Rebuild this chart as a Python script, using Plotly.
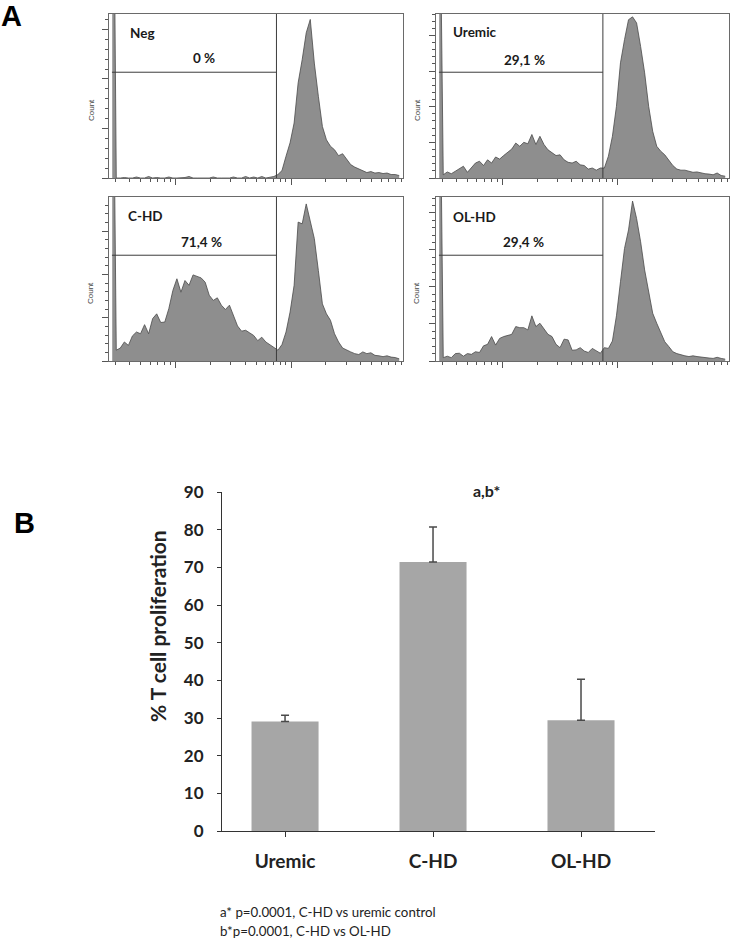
import math
import plotly.graph_objects as go

W, H = 733, 943

# ---------------- Panel A data: CFSE histograms (72 log-spaced channels) ----------------
channel_log = [1.45 + 0.035 * i for i in range(72)]
channels = [10 ** v for v in channel_log]

# first channel = off-scale pile-up at the axis minimum
neg_counts = [1000,
    0, 0, 1, 0, 0, 2, 0, 0, 3, 0,
    1, 0, 0, 2, 0, 0, 0, 1, 3, 0,
    0, 0, 0, 0, 2, 0, 0, 0, 0, 2,
    0, 0, 3, 0, 2, 0, 3, 0, 2, 3,
    7, 15, 44, 71, 111, 192, 239, 293, 320, 232,
    165, 104, 77, 64, 57, 45, 49, 37, 27, 22,
    18, 15, 11, 13, 10, 11, 9, 10, 7, 7,
    5]
uremic_counts = [1000,
    9, 17, 12, 19, 25, 33, 16, 28, 42, 47,
    35, 51, 42, 59, 53, 63, 72, 81, 98, 89,
    100, 96, 122, 94, 117, 94, 79, 70, 63, 65,
    51, 44, 42, 47, 37, 35, 25, 28, 22, 28,
    28, 61, 117, 201, 323, 388, 444, 452, 435, 369,
    295, 201, 131, 89, 75, 65, 50, 35, 25, 22,
    22, 19, 16, 17, 14, 12, 11, 9, 14, 7,
    5]
chd_counts = [1000,
    25, 30, 44, 36, 58, 67, 63, 84, 63, 98,
    109, 89, 90, 121, 163, 190, 159, 186, 175, 199,
    196, 192, 182, 152, 140, 146, 129, 119, 129, 107,
    81, 69, 71, 65, 59, 47, 55, 44, 38, 30,
    25, 38, 67, 113, 175, 321, 317, 363, 320, 283,
    209, 132, 109, 94, 63, 44, 30, 25, 21, 17,
    15, 21, 17, 19, 13, 12, 10, 12, 9, 8,
    5]
olhd_counts = [1000,
    9, 13, 9, 20, 21, 13, 20, 18, 25, 23,
    41, 45, 66, 43, 61, 66, 70, 72, 93, 90,
    90, 84, 122, 93, 102, 88, 72, 66, 45, 36,
    59, 57, 29, 30, 36, 27, 23, 34, 28, 21,
    36, 34, 54, 122, 214, 304, 354, 432, 385, 322,
    246, 187, 129, 102, 75, 52, 39, 25, 20, 16,
    14, 12, 14, 12, 10, 9, 8, 7, 10, 7,
    5]

panel_names = ["Neg", "Uremic", "C-HD", "OL-HD"]
panel_pct = ["0 %", "29,1 %", "71,4 %", "29,4 %"]
panel_counts = [neg_counts, uremic_counts, chd_counts, olhd_counts]
panel_ymax = [331, 460, 379, 443]
gate_value = 745          # divided-cell gate upper limit (fluorescence)

x_major = [100, 1000]
x_minor = [30, 40, 50, 60, 70, 80, 90,
           200, 300, 400, 500, 600, 700, 800, 900,
           2000, 3000, 4000, 5000, 6000, 7000, 8000, 9000]
x_log_range = [1.422, 3.968]

# ---------------- Panel B data ----------------
groups = ["Uremic", "C-HD", "OL-HD"]
proliferation = [29.1, 71.4, 29.4]
sd_upper = [1.6, 9.3, 10.9]
y_ticks_b = [0, 10, 20, 30, 40, 50, 60, 70, 80, 90]
footnotes = ["a* p=0.0001, C-HD vs uremic control", "b*p=0.0001, C-HD vs OL-HD"]

# ---------------- layout helpers ----------------
def fx(p):
    return p / W

def fy(p):
    return 1 - p / H

FONT = "Lato"
fig = go.Figure()

# panel frames in pixels: (left, right, top, bottom)
frames = [(109, 403, 14, 178), (436, 729, 14, 178),
          (109, 403, 197, 361), (436, 729, 197, 361)]
name_pos = [(128, 33), (451, 32), (126, 216), (451, 217)]
pct_pos = [(204, 58), (524, 60), (201, 242), (523, 242)]
count_x = [91, 417, 91, 417]

shapes = []
annotations = []
gate_frac = (math.log10(gate_value) - x_log_range[0]) / (x_log_range[1] - x_log_range[0])

for k in range(4):
    ax = "" if k == 0 else str(k + 1)
    L, R, T, B = frames[k]
    fig.add_trace(go.Scatter(
        x=channels, y=panel_counts[k], mode="lines",
        fill="tozeroy", fillcolor="#8e8e8e",
        line=dict(color="#4a4a4a", width=0.8),
        xaxis="x" + ax, yaxis="y" + ax, showlegend=False, hoverinfo="skip"))
    fig.update_layout(**{
        "xaxis" + ax: dict(
            domain=[fx(L), fx(R)], anchor="y" + ax, type="log", range=x_log_range,
            automargin=False,
            showline=True, linecolor="#6a6a6a", linewidth=1, mirror=True,
            ticks="outside", tickmode="array", tickvals=x_major, ticklen=6,
            tickcolor="#555", tickwidth=1, showticklabels=False,
            showgrid=False, zeroline=False,
            minor=dict(tickmode="array", tickvals=x_minor, ticks="outside",
                       ticklen=3, tickcolor="#555", showgrid=False)),
        "yaxis" + ax: dict(
            domain=[fy(B), fy(T)], anchor="x" + ax, range=[0, panel_ymax[k]],
            automargin=False,
            showline=True, linecolor="#6a6a6a", linewidth=1, mirror=True,
            ticks="outside", tickmode="linear", tick0=0, dtick=100, ticklen=6,
            tickcolor="#555", showticklabels=False, showgrid=False, zeroline=False,
            minor=dict(dtick=20, ticks="outside", ticklen=3, tickcolor="#555",
                       showgrid=False)),
    })
    # gate: vertical marker + horizontal bar across the gated region
    shapes.append(dict(type="line", xref="x" + ax + " domain", yref="y" + ax + " domain",
                       x0=gate_frac, x1=gate_frac, y0=0, y1=1,
                       line=dict(color="#3c3c3c", width=1)))
    shapes.append(dict(type="line", xref="x" + ax + " domain", yref="y" + ax + " domain",
                       x0=0.01, x1=gate_frac, y0=0.645, y1=0.645,
                       line=dict(color="#3c3c3c", width=1)))
    annotations.append(dict(x=fx(name_pos[k][0]), y=fy(name_pos[k][1]), xref="paper", yref="paper",
                            text="<b>" + panel_names[k] + "</b>", showarrow=False,
                            xanchor="left", yanchor="middle",
                            font=dict(family=FONT, size=13.5, color="#1a1a1a")))
    annotations.append(dict(x=fx(pct_pos[k][0]), y=fy(pct_pos[k][1]), xref="paper", yref="paper",
                            text="<b>" + panel_pct[k] + "</b>", showarrow=False,
                            xanchor="center", yanchor="middle",
                            font=dict(family=FONT, size=13.5, color="#1a1a1a")))
    annotations.append(dict(x=fx(count_x[k]), y=fy((T + B) / 2 + 14), xref="paper", yref="paper",
                            text="Count", showarrow=False, textangle=-90,
                            xanchor="center", yanchor="middle",
                            font=dict(family="Liberation Sans", size=8, color="#444")))

# ---------------- Panel B ----------------
fig.add_trace(go.Bar(
    x=groups, y=proliferation, width=0.453, marker=dict(color="#a6a6a6", line=dict(width=0)),
    error_y=dict(type="data", symmetric=False, array=sd_upper, arrayminus=[0, 0, 0],
                 color="#4a4a4a", thickness=1.5, width=4),
    xaxis="x5", yaxis="y5", showlegend=False, hoverinfo="skip"))

fig.update_layout(
    xaxis5=dict(domain=[fx(222), fx(655)], anchor="y5", type="category", automargin=False,
                range=[-0.426, 2.5], showline=True, linecolor="#333", linewidth=1.2,
                ticks="outside", ticklen=5, tickcolor="#333", showgrid=False, zeroline=False,
                ticklabelstandoff=8,
                tickfont=dict(family=FONT, size=19, color="#222", weight="bold")),
    yaxis5=dict(domain=[fy(831), fy(492)], anchor="x5", range=[0, 90], automargin=False,
                tickmode="array", tickvals=y_ticks_b, showline=True, linecolor="#333",
                linewidth=1.2, ticks="outside", ticklen=4, tickcolor="#333",
                showgrid=False, zeroline=False, ticklabelstandoff=10,
                tickfont=dict(family=FONT, size=17, color="#222", weight="bold")),
)

annotations += [
    dict(x=fx(157), y=fy(626), xref="paper", yref="paper", text="<b>% T cell proliferation</b>",
         textangle=-90, showarrow=False, xanchor="center", yanchor="middle",
         font=dict(family=FONT, size=21, color="#222")),
    dict(x=fx(486), y=fy(490), xref="paper", yref="paper", text="<b>a,b*</b>",
         showarrow=False, xanchor="center", yanchor="middle",
         font=dict(family=FONT, size=16, color="#222")),
    dict(x=fx(218), y=fy(912), xref="paper", yref="paper", text=footnotes[0],
         showarrow=False, xanchor="left", yanchor="middle",
         font=dict(family=FONT, size=13.3, color="#222")),
    dict(x=fx(218), y=fy(931), xref="paper", yref="paper", text=footnotes[1],
         showarrow=False, xanchor="left", yanchor="middle",
         font=dict(family=FONT, size=13.3, color="#222")),
    dict(x=fx(11), y=fy(16), xref="paper", yref="paper", text="<b>A</b>",
         showarrow=False, xanchor="center", yanchor="middle",
         font=dict(family="Liberation Sans", size=29, color="#000")),
    dict(x=fx(24), y=fy(523), xref="paper", yref="paper", text="<b>B</b>",
         showarrow=False, xanchor="center", yanchor="middle",
         font=dict(family="Liberation Sans", size=29, color="#000")),
]

fig.update_layout(
    template="none",
    width=W, height=H, margin=dict(l=0, r=0, t=0, b=0, pad=0),
    paper_bgcolor="white", plot_bgcolor="white",
    shapes=shapes, annotations=annotations, showlegend=False,
)

fig.write_html("out.html", config={"displayModeBar": False},
               post_script="document.body.style.margin='0';document.body.style.overflow='hidden';")
